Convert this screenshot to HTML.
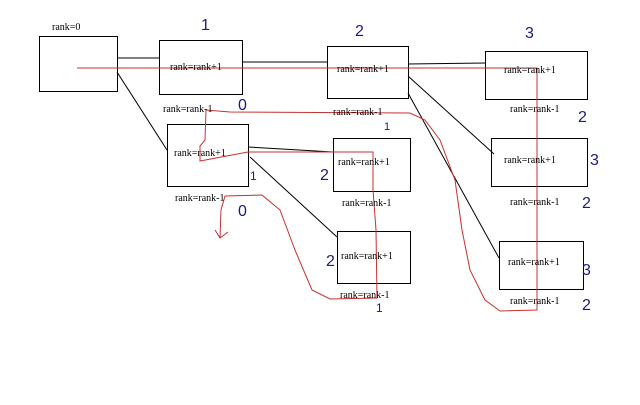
<!DOCTYPE html>
<html><head><style>
body{margin:0;background:#fff;width:640px;height:400px;overflow:hidden}
svg text{font-family:"Liberation Serif",serif;font-size:10px;fill:#000}
svg .b text{font-family:"Liberation Sans",sans-serif;fill:#1a1a80;font-size:16px}
</style></head><body>
<svg width="640" height="400" xmlns="http://www.w3.org/2000/svg">
<g fill="none" stroke="#000" stroke-width="1">
<rect x="39.5" y="36.5" width="78" height="55"/>
<rect x="159.5" y="40.5" width="83" height="54"/>
<rect x="327.5" y="46.5" width="81" height="52"/>
<rect x="485.5" y="51.5" width="102" height="48"/>
<rect x="167.5" y="124.5" width="81" height="62"/>
<rect x="333.5" y="138.5" width="77" height="53"/>
<rect x="337.5" y="231.5" width="73" height="52"/>
<rect x="491.5" y="138.5" width="96" height="48"/>
<rect x="499.5" y="241.5" width="84" height="48"/>
<line x1="117" y1="58" x2="159" y2="58"/>
<line x1="117" y1="72" x2="167" y2="150"/>
<line x1="242" y1="62" x2="327" y2="62"/>
<line x1="408" y1="64" x2="485" y2="63"/>
<line x1="408" y1="76" x2="494" y2="154"/>
<line x1="408" y1="93" x2="499" y2="258"/>
<line x1="248" y1="147" x2="333" y2="152"/>
<line x1="250" y1="157" x2="337" y2="237"/>
</g>
<g fill="none" stroke="#c83030" stroke-width="1">
<polyline points="77,68 537,68 537,310 500,311 485,300 470,270 462,230 455,180 440,140 425,120 410,113 230,112 206,110 205,140 200,146 200,161 248,152 373,152 373,190 376,230 377,298 330,299 312,290 295,250 280,210 262,195 225,196 221,210 220,238"/>
<polyline points="215,230 220,238 228,232"/>
</g>
<text x="52" y="30">rank=0</text>
<g>
<text x="170" y="70">rank=rank+1</text>
<text x="337" y="72">rank=rank+1</text>
<text x="504" y="73">rank=rank+1</text>
<text x="174" y="156">rank=rank+1</text>
<text x="338" y="165">rank=rank+1</text>
<text x="341" y="259">rank=rank+1</text>
<text x="504" y="163">rank=rank+1</text>
<text x="508" y="265">rank=rank+1</text>
<text x="163" y="112">rank=rank-1</text>
<text x="333" y="115">rank=rank-1</text>
<text x="510" y="112">rank=rank-1</text>
<text x="175" y="201">rank=rank-1</text>
<text x="342" y="206">rank=rank-1</text>
<text x="340" y="298">rank=rank-1</text>
<text x="510" y="205">rank=rank-1</text>
<text x="510" y="304">rank=rank-1</text>
</g>
<g class="b">
<text x="201" y="30">1</text>
<text x="355" y="36">2</text>
<text x="525" y="38">3</text>
<text x="238" y="110">0</text>
<text x="384" y="130" style="font-size:11px">1</text>
<text x="250" y="180" style="font-size:12px">1</text>
<text x="238" y="216">0</text>
<text x="320" y="180">2</text>
<text x="326" y="266">2</text>
<text x="376" y="312" style="font-size:12px">1</text>
<text x="578" y="122">2</text>
<text x="590" y="165">3</text>
<text x="582" y="208">2</text>
<text x="582" y="275">3</text>
<text x="582" y="310">2</text>
</g>
</svg>
</body></html>
